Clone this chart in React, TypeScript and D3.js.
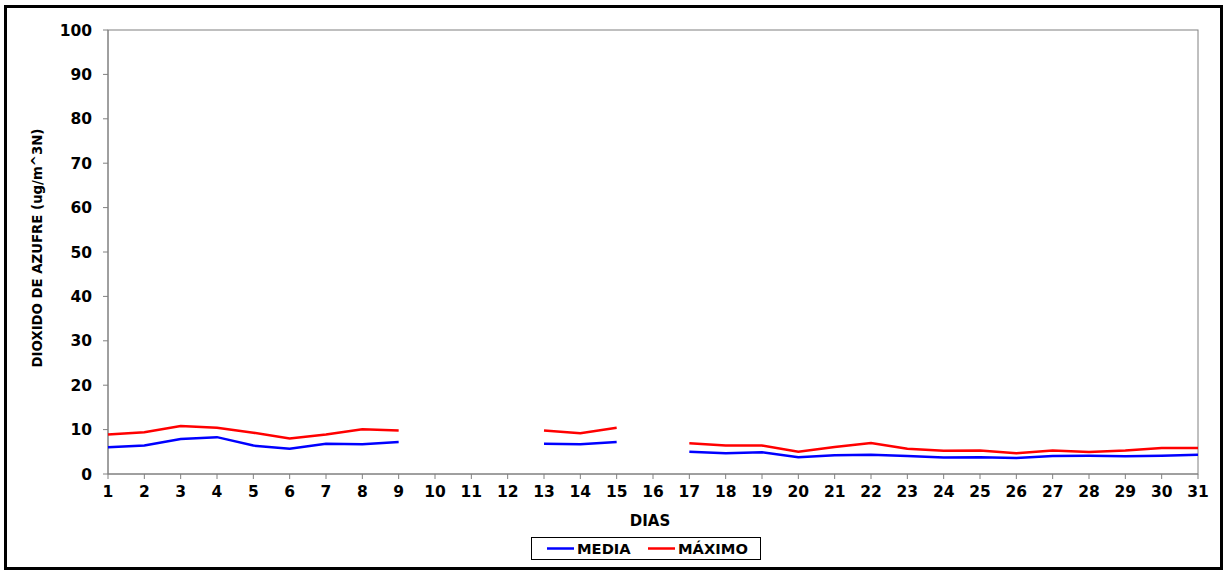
import React from "react";
import * as d3 from "d3";

const days: number[] = Array.from({ length: 31 }, (_, i) => i + 1);
const media: (number | null)[] = [
  6.0, 6.4, 7.9, 8.3, 6.4, 5.7, 6.8, 6.7, 7.2, null, null, null, 6.8, 6.7, 7.2, null,
  5.0, 4.7, 4.9, 3.8, 4.2, 4.35, 4.05, 3.7, 3.8, 3.6, 4.05, 4.1, 4.0, 4.1, 4.35,
];
const maximo: (number | null)[] = [
  8.9, 9.4, 10.8, 10.4, 9.3, 8.0, 8.9, 10.1, 9.8, null, null, null, 9.8, 9.2, 10.4, null,
  6.9, 6.4, 6.4, 5.0, 6.1, 7.0, 5.7, 5.25, 5.3, 4.65, 5.3, 4.95, 5.3, 5.85, 5.85,
];
const yTicks: number[] = [0, 10, 20, 30, 40, 50, 60, 70, 80, 90, 100];

export default function App() {
  const W = 1228, H = 574;
  const L = 108, R = 1198, T = 30, B = 474;
  const x = d3.scaleLinear().domain([1, 31]).range([L, R]);
  const y = d3.scaleLinear().domain([0, 100]).range([B, T]);
  const line = d3
    .line<number | null>()
    .defined((d) => d !== null)
    .x((_, i) => x(days[i]))
    .y((d) => y(d as number));
  const font = "'DejaVu Sans', Verdana, sans-serif";
  const axisColor = "#808080";
  return (
    <svg
      width={W}
      height={H}
      style={{ position: "absolute", left: 0, top: 0 }}
      fontFamily={font}
    >
      <rect x={0} y={0} width={W} height={H} fill="white" />
      <rect x={5.5} y={6.5} width={1216} height={562} fill="white" stroke="black" strokeWidth={3} />
      {/* plot border */}
      <rect x={L} y={T} width={R - L} height={B - T} fill="white" stroke={axisColor} strokeWidth={1} />
      {/* y ticks */}
      {yTicks.map((t) => (
        <g key={t}>
          <line x1={L - 5} x2={L} y1={y(t)} y2={y(t)} stroke={axisColor} />
          <text
            x={L - 16}
            y={y(t)}
            dy="0.36em"
            textAnchor="end"
            fontSize={15.5}
            fontWeight="bold"
          >
            {t}
          </text>
        </g>
      ))}
      {/* x ticks */}
      {days.map((d) => (
        <g key={d}>
          <line x1={x(d)} x2={x(d)} y1={B} y2={B + 5} stroke={axisColor} />
          <text x={x(d)} y={B + 23} textAnchor="middle" fontSize={15.5} fontWeight="bold">
            {d}
          </text>
        </g>
      ))}
      <line x1={L} x2={L} y1={T} y2={B} stroke={axisColor} />
      <line x1={L} x2={R} y1={B} y2={B} stroke={axisColor} />
      {/* series */}
      <path d={line(media) || ""} fill="none" stroke="#0000ff" strokeWidth={2.5} />
      <path d={line(maximo) || ""} fill="none" stroke="#ff0000" strokeWidth={2.5} />
      {/* axis titles */}
      <text x={650} y={526} textAnchor="middle" fontSize={15} fontWeight="bold">
        DIAS
      </text>
      <text
        transform={`translate(42,248) rotate(-90)`}
        textAnchor="middle"
        fontSize={13.3}
        fontWeight="bold"
      >
        DIOXIDO DE AZUFRE (ug/m^3N)
      </text>
      {/* legend */}
      <rect x={531.5} y={537.5} width={229} height={22} fill="white" stroke="black" strokeWidth={1} />
      <line x1={547} x2={574} y1={548.5} y2={548.5} stroke="#0000ff" strokeWidth={2.5} />
      <text x={577} y={554} fontSize={14.7} fontWeight="bold">
        MEDIA
      </text>
      <line x1={648} x2={675} y1={548.5} y2={548.5} stroke="#ff0000" strokeWidth={2.5} />
      <text x={678} y={554} fontSize={14.7} fontWeight="bold">
        MÁXIMO
      </text>
    </svg>
  );
}
